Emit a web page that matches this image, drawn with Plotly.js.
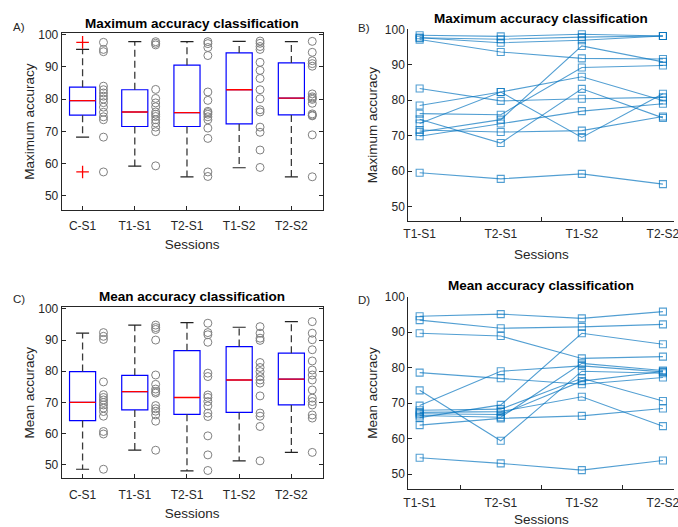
<!DOCTYPE html>
<html>
<head>
<meta charset="utf-8">
<script src="https://cdn.plot.ly/plotly-3.0.1.min.js"></script>
<style>html,body{margin:0;padding:0;background:#fff;}#chart{width:678px;height:527px;}</style>
</head>
<body>
<div id="chart"></div>
<script>
// ---------- DATA ----------
const boxCats = ['C-S1', 'T1-S1', 'T2-S1', 'T1-S2', 'T2-S2'];
const lineCats = ['T1-S1', 'T2-S1', 'T1-S2', 'T2-S2'];

// Panel A: maximum accuracy, individual values per session
const maxCS1 = [97.6, 95.4, 94.7, 84.0, 82.9, 81.9, 80.9, 80.0, 78.9, 77.5, 75.9, 74.5, 73.6, 68.2, 57.4];
const maxT1S1 = [97.8, 97.3, 96.8, 83.0, 80.2, 78.8, 77.6, 76.0, 75.3, 74.6, 73.6, 72.6, 71.3, 69.9, 59.3];
const maxT2S1 = [97.8, 97.2, 96.0, 93.5, 82.2, 79.6, 76.2, 75.8, 75.3, 74.5, 73.6, 71.0, 67.8, 57.4, 56.0];
const maxT1S2 = [98.0, 97.3, 96.3, 95.4, 91.4, 88.9, 86.4, 82.9, 80.1, 76.7, 76.0, 71.3, 69.7, 64.2, 58.8];
const maxT2S2 = [97.9, 94.5, 91.9, 91.0, 90.2, 81.6, 80.7, 80.3, 79.9, 78.7, 75.4, 75.0, 74.8, 68.9, 55.9];
// Panel A: box statistics
const maxLo = [68.2, 59.2, 55.9, 58.7, 55.9];
const maxQ1 = [75.0, 71.5, 71.5, 72.3, 75.1];
const maxMed = [79.5, 76.0, 75.8, 82.9, 80.3];
const maxQ3 = [83.7, 82.9, 90.5, 94.3, 91.2];
const maxHi = [95.4, 97.8, 97.8, 97.9, 97.8];
const maxOutlierCat = [1, 1];
const maxOutlierVal = [97.6, 57.4];

// Panel C: mean accuracy, individual values per session
const meanCS1 = [92.4, 91.2, 90.2, 76.6, 72.5, 71.6, 70.8, 70.0, 69.2, 68.2, 67.1, 65.6, 60.7, 59.9, 48.6];
const meanT1S1 = [94.8, 94.0, 93.4, 90.0, 78.8, 75.8, 74.3, 73.5, 73.0, 69.0, 68.0, 67.2, 66.0, 64.0, 54.7];
const meanT2S1 = [95.4, 92.4, 91.7, 89.3, 79.4, 78.3, 72.4, 71.6, 70.3, 68.9, 66.6, 65.5, 59.3, 53.2, 48.2];
const meanT1S2 = [94.3, 92.2, 90.6, 89.9, 82.8, 81.2, 79.9, 78.3, 77.2, 76.2, 72.1, 66.6, 65.6, 62.3, 51.3];
const meanT2S2 = [95.9, 92.2, 90.1, 86.9, 83.3, 80.4, 78.8, 77.2, 74.0, 71.4, 70.3, 69.2, 66.0, 65.0, 54.0];
// Panel C: box statistics
const meanLo = [48.6, 54.7, 48.1, 51.3, 54.0];
const meanQ1 = [64.2, 67.6, 66.2, 66.8, 69.2];
const meanMed = [70.0, 73.5, 71.6, 77.2, 77.5];
const meanQ3 = [79.9, 78.7, 86.6, 87.9, 85.8];
const meanHi = [92.2, 94.8, 95.6, 94.1, 95.9];

// Panel B: maximum accuracy per subject across T1-S1, T2-S1, T1-S2, T2-S2
const maxBySubject = [
  [98.3, 98.0, 98.6, 98.1],
  [97.6, 97.2, 97.8, 98.1],
  [97.6, 96.2, 96.9, 98.1],
  [97.1, 93.6, 91.8, 91.6],
  [83.3, 79.8, 80.4, 80.8],
  [78.5, 82.3, 86.6, 79.9],
  [76.2, 75.9, 89.2, 89.8],
  [74.6, 67.9, 83.2, 75.0],
  [73.4, 82.3, 69.5, 81.8],
  [71.6, 71.0, 71.4, 75.4],
  [71.0, 74.5, 95.3, 90.8],
  [69.8, 73.4, 76.9, 79.0],
  [59.5, 57.8, 59.2, 56.3]
];
// Panel D: mean accuracy per subject
const meanBySubject = [
  [94.5, 95.1, 93.9, 95.8],
  [93.4, 91.1, 91.5, 92.2],
  [89.7, 88.9, 82.6, 83.1],
  [78.6, 77.0, 75.3, 77.2],
  [73.6, 59.4, 79.0, 78.4],
  [69.3, 79.0, 80.5, 78.8],
  [65.9, 69.5, 89.7, 86.6],
  [68.0, 68.3, 77.0, 70.6],
  [67.4, 67.6, 71.8, 63.5],
  [67.0, 66.8, 76.2, 78.9],
  [63.8, 65.7, 66.4, 68.5],
  [54.6, 53.0, 51.1, 53.8],
  [66.5, 66.0, 81.2, 79.2]
];

// ---------- STYLE ----------
const FONT = 'Liberation Sans, Arial, Helvetica, sans-serif';
const AXC = '#262626';
const LINEBLUE = 'rgba(0,114,189,0.68)';
const BOXW = 0.5, CAPW = 0.25, PTOFF = 0.4;

const traces = [];

function addBoxPanel(xa, ya, groups, lo, q1, med, q3, hi, outX, outY) {
  const pos = groups.map((g, i) => i + 1);
  const wx = [], wy = [], cx = [], cy = [], mx = [], my = [];
  pos.forEach((p, i) => {
    wx.push(p, p, null, p, p, null);
    wy.push(q3[i], hi[i], null, q1[i], lo[i], null);
    cx.push(p - CAPW / 2, p + CAPW / 2, null, p - CAPW / 2, p + CAPW / 2, null);
    cy.push(hi[i], hi[i], null, lo[i], lo[i], null);
    mx.push(p - BOXW / 2, p + BOXW / 2, null);
    my.push(med[i], med[i], null);
  });
  traces.push({type: 'scatter', mode: 'lines', x: wx, y: wy, xaxis: xa, yaxis: ya,
    line: {color: '#3a3a3a', width: 1.3, dash: '7px,4px'}, hoverinfo: 'skip', showlegend: false});
  traces.push({type: 'scatter', mode: 'lines', x: cx, y: cy, xaxis: xa, yaxis: ya,
    line: {color: '#222', width: 1.2}, hoverinfo: 'skip', showlegend: false});
  traces.push({type: 'box', x: pos, q1: q1, median: med, q3: q3, lowerfence: q1, upperfence: q3,
    xaxis: xa, yaxis: ya, width: BOXW, whiskerwidth: 0, fillcolor: 'rgba(0,0,0,0)',
    line: {color: '#0000FF', width: 1.2}, showlegend: false, hoverinfo: 'skip'});
  traces.push({type: 'scatter', mode: 'lines', x: mx, y: my, xaxis: xa, yaxis: ya,
    line: {color: '#FF0000', width: 1.3}, hoverinfo: 'skip', showlegend: false});
  groups.forEach((vals, i) => {
    traces.push({type: 'scatter', mode: 'markers', x: vals.map(() => i + 1 + PTOFF), y: vals,
      xaxis: xa, yaxis: ya, showlegend: false,
      marker: {symbol: 'circle-open', size: 8, color: '#808080', line: {width: 1, color: '#808080'}}});
  });
  if (outY && outY.length) {
    traces.push({type: 'scatter', mode: 'markers', x: outX, y: outY, xaxis: xa, yaxis: ya, showlegend: false,
      marker: {symbol: 'cross-thin-open', size: 9, color: '#FF0000', line: {width: 1.3, color: '#FF0000'}}});
  }
}

function addLinePanel(xa, ya, subjects) {
  subjects.forEach(s => {
    traces.push({type: 'scatter', mode: 'lines+markers', x: lineCats.map((c, i) => i + 1), y: s,
      xaxis: xa, yaxis: ya, showlegend: false,
      line: {color: LINEBLUE, width: 1.1},
      marker: {symbol: 'square-open', size: 7, color: LINEBLUE, line: {width: 1.1, color: LINEBLUE}}});
  });
}

addBoxPanel('x', 'y', [maxCS1, maxT1S1, maxT2S1, maxT1S2, maxT2S2], maxLo, maxQ1, maxMed, maxQ3, maxHi, maxOutlierCat, maxOutlierVal);
addLinePanel('x2', 'y2', maxBySubject);
addBoxPanel('x3', 'y3', [meanCS1, meanT1S1, meanT2S1, meanT1S2, meanT2S2], meanLo, meanQ1, meanMed, meanQ3, meanHi, [], []);
addLinePanel('x4', 'y4', meanBySubject);

const W = 678, H = 527;
const px = v => v / W, py = v => 1 - v / H;

const tickFont = {family: FONT, size: 12, color: AXC};
const titleFont = {family: FONT, size: 13.5, color: AXC};

function boxX(domain, anchor) {
  return {domain: domain, anchor: anchor, range: [0.6, 5.6], tickmode: 'array', tickvals: [1, 2, 3, 4, 5], ticktext: boxCats,
    ticks: 'inside', ticklen: 4, tickcolor: AXC, showline: true, linecolor: AXC, linewidth: 1, mirror: true,
    ticklabelstandoff: 5,
    showgrid: false, zeroline: false, tickfont: tickFont, title: {text: 'Sessions', font: titleFont, standoff: 7}};
}
function boxY(domain, anchor, range, label) {
  return {domain: domain, anchor: anchor, range: range, tickmode: 'array', tickvals: [50, 60, 70, 80, 90, 100],
    ticks: 'inside', ticklen: 4, tickcolor: AXC, showline: true, linecolor: AXC, linewidth: 1, mirror: 'ticks',
    showgrid: false, zeroline: false, tickfont: tickFont, title: {text: label, font: titleFont, standoff: 0}};
}
function lineX(domain, anchor) {
  return {domain: domain, anchor: anchor, range: [0.86, 4.14], tickmode: 'array', tickvals: [1, 2, 3, 4], ticktext: lineCats,
    ticks: '', showline: true, linecolor: AXC, linewidth: 1, showgrid: false, zeroline: false,
    ticklabeloverflow: 'allow', ticklabelstandoff: 2,
    minor: {tickmode: 'array', tickvals: [1.5, 2.5, 3.5], ticks: 'inside', ticklen: 4, tickcolor: AXC, showgrid: false},
    tickfont: tickFont, title: {text: 'Sessions', font: titleFont, standoff: 9}};
}
function lineY(domain, anchor, range, label) {
  return {domain: domain, anchor: anchor, range: range, tickmode: 'array', tickvals: [50, 60, 70, 80, 90, 100],
    ticks: 'inside', ticklen: 4, tickcolor: AXC, showline: true, linecolor: AXC, linewidth: 1,
    showgrid: false, zeroline: false, tickfont: tickFont, title: {text: label, font: titleFont, standoff: 4}};
}

const leftDom = [px(61.7), px(322.7)];
const rightDom = [px(408.3), px(674.3)];

const titleAnn = (text, x, y) => ({text: '<b>' + text + '</b>', x: px(x), y: py(y), xref: 'paper', yref: 'paper',
  xanchor: 'center', yanchor: 'middle', showarrow: false, font: {family: FONT, size: 13.5, color: '#000'}});
const letterAnn = (text, x, y) => ({text: text, x: px(x), y: py(y), xref: 'paper', yref: 'paper',
  xanchor: 'left', yanchor: 'middle', showarrow: false, font: {family: FONT, size: 11.5, color: AXC}});

const layout = {
  width: W, height: H,
  margin: {l: 0, r: 0, t: 0, b: 0},
  paper_bgcolor: '#fff', plot_bgcolor: '#fff',
  showlegend: false,
  font: {family: FONT, color: AXC},
  xaxis: boxX(leftDom, 'y'),
  yaxis: boxY([py(210), py(33.3)], 'x', [45.6, 100.4], 'Maximum accuracy'),
  xaxis2: lineX(rightDom, 'y2'),
  yaxis2: lineY([py(221), py(29.3)], 'x2', [45.9, 100], 'Maximum accuracy'),
  xaxis3: boxX(leftDom, 'y3'),
  yaxis3: boxY([py(478.3), py(307.3)], 'x3', [45.7, 100.5], 'Mean accuracy'),
  xaxis4: lineX(rightDom, 'y4'),
  yaxis4: lineY([py(489.3), py(296.7)], 'x4', [45.7, 100], 'Mean accuracy'),
  annotations: [
    titleAnn('Maximum accuracy classification', 192.5, 24),
    titleAnn('Maximum accuracy classification', 541.3, 18),
    titleAnn('Mean accuracy classification', 192.5, 296.5),
    titleAnn('Mean accuracy classification', 541.3, 285),
    letterAnn('A)', 11, 27),
    letterAnn('B)', 356, 28),
    letterAnn('C)', 11, 299),
    letterAnn('D)', 356, 299.5)
  ]
};

Plotly.newPlot('chart', traces, layout, {staticPlot: true, displayModeBar: false});
</script>
</body>
</html>
